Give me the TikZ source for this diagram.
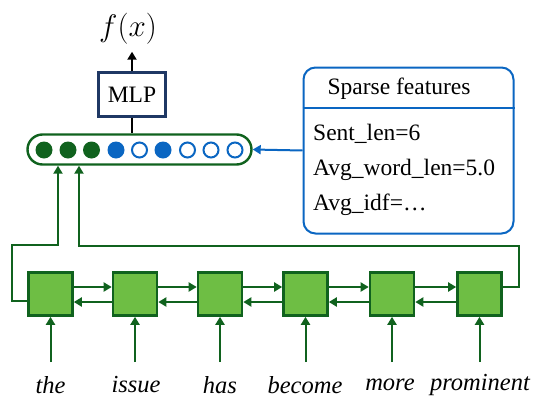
\documentclass[tikz,border=0pt]{standalone}
\usepackage{fontspec}
\setmainfont{Liberation Serif}[ItalicFont={Liberation Serif Italic}]
\usetikzlibrary{arrows.meta}
\definecolor{dgreen}{RGB}{16,98,30}
\definecolor{lgreen}{RGB}{110,190,68}
\definecolor{fblue}{RGB}{10,102,194}
\definecolor{navy}{RGB}{31,56,100}
\tikzset{
  gline/.style={draw=dgreen,line width=2pt},
  garrow/.style={gline,-{Triangle[length=8pt,width=9pt]}},
  barrow/.style={draw=fblue,line width=2pt,-{Triangle[length=8pt,width=9pt]}},
  karrow/.style={draw=black,line width=2pt,-{Triangle[length=8pt,width=9pt]}},
  cell/.style={draw=dgreen,fill=lgreen,line width=2.6pt,minimum width=44pt,minimum height=43pt,inner sep=0pt},
  gdot/.style={circle,fill=dgreen,minimum size=17pt,inner sep=0pt},
  bdot/.style={circle,fill=fblue,minimum size=17pt,inner sep=0pt},
  odot/.style={circle,draw=fblue,fill=white,line width=2pt,minimum size=15pt,inner sep=0pt},
  word/.style={font=\fontsize{24.5}{28}\selectfont\itshape,inner sep=0pt},
  txt/.style={font=\fontsize{23.5}{28}\selectfont,inner sep=0pt},
}
\begin{document}
\begin{tikzpicture}[x=1pt,y=-1pt]
\useasboundingbox (0,0) rectangle (537,399);
% output
\node[inner sep=0pt,font=\fontsize{24}{28}\selectfont] (fx) at (128,29) {\scalebox{1.25}{$f(x)$}};
\node[draw=navy,line width=2.4pt,minimum width=67pt,minimum height=44pt,inner sep=0pt,txt] (mlp) at (132,94.5) {MLP};
\draw[karrow] (mlp.north) -- ([yshift=-7pt]mlp.north |- fx.south);
% vector
\node[draw=dgreen,line width=2.4pt,rounded corners=15pt,minimum width=224pt,minimum height=30pt,inner sep=0pt] (vec) at (139.5,149.5) {};
\draw[line width=2pt] (mlp.south) -- (mlp.south |- vec.north);
\node[gdot] (c1) at (44,150) {};
\node[gdot] (c2) at (68,150) {};
\node[gdot] (c3) at (91.5,150) {};
\node[bdot] (c4) at (116,150) {};
\node[odot] (c5) at (139.5,150) {};
\node[bdot] (c6) at (163,150) {};
\node[odot] (c7) at (187.5,150) {};
\node[odot] (c8) at (211,150) {};
\node[odot] (c9) at (235,150) {};
% sparse features
\node[draw=fblue,line width=2pt,rounded corners=12pt,minimum width=210pt,minimum height=166pt,inner sep=0pt] (sp) at (408.5,150.5) {};
\draw[draw=fblue,line width=2pt] (sp.west |- 0,108) -- (sp.east |- 0,108);
\node[txt] (title) at (399,89) {Sparse features};
\node[txt,anchor=west] (f1) at (313,134) {Sent\_len=6};
\node[txt,anchor=west] (f2) at (313,170) {Avg\_word\_len=5.0};
\node[txt,anchor=west] (f3) at (313,205) {Avg\_idf=…};
\draw[barrow] (sp.west) -- (vec.east);
% cells
\node[cell] (b1) at (50.5,294) {};
\node[cell] (b2) at (135,294) {};
\node[cell] (b3) at (220,294) {};
\node[cell] (b4) at (305.5,294) {};
\node[cell] (b5) at (392,294) {};
\node[cell] (b6) at (479.5,294) {};
\foreach \a/\b in {b1/b2,b2/b3,b3/b4,b4/b5,b5/b6}{
  \draw[garrow] ([yshift=7pt]\a.east) -- ([yshift=7pt]\b.west);
  \draw[garrow] ([yshift=-8pt]\b.west) -- ([yshift=-8pt]\a.east);
}
% words
\node[word] (w1) at (50.5,385) {the};
\node[word] (w2) at (136,385) {issue};
\node[word] (w3) at (220,385) {has};
\node[word] (w4) at (305,385) {become};
\node[word] (w5) at (390,385) {more};
\node[word] (w6) at (480,385) {prominent};
\foreach \i in {1,...,6}{
  \draw[garrow] (b\i.south |- 0,362) -- (b\i.south);
}
% loops to vector
\draw[garrow] ([yshift=-7pt]b1.west) -| (12,245) -| ([xshift=-81.5pt]vec.south);
\draw[garrow] ([yshift=7pt]b6.east) -| (519,246) -| ([xshift=-60.5pt]vec.south);
\end{tikzpicture}
\end{document}
